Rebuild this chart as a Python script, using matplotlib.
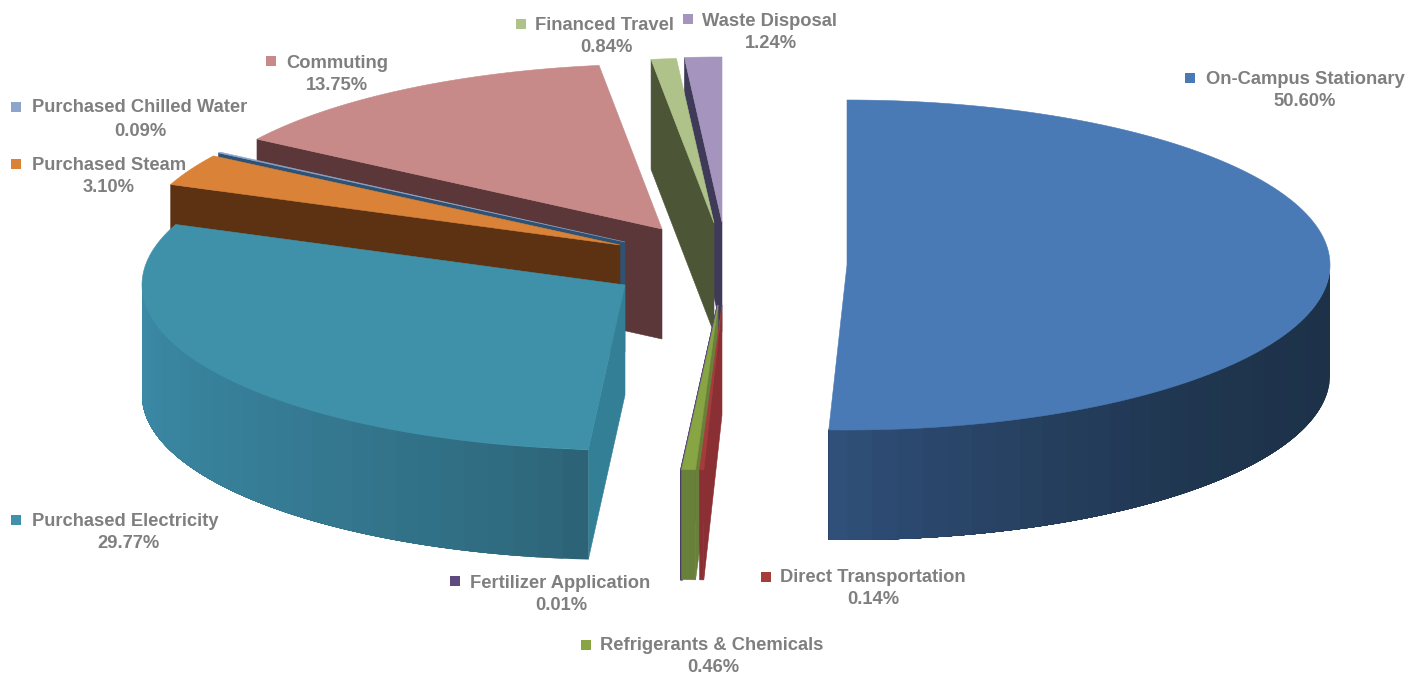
import numpy as np
import matplotlib

matplotlib.use("Agg")

import matplotlib.pyplot as plt
from matplotlib.colors import to_rgb
from matplotlib.patches import Polygon


# =====================================
# Emissions share by source (percent)
# =====================================

sources = [
    "On-Campus Stationary",
    "Direct Transportation",
    "Refrigerants & Chemicals",
    "Fertilizer Application",
    "Purchased Electricity",
    "Purchased Steam",
    "Purchased Chilled Water",
    "Commuting",
    "Financed Travel",
    "Waste Disposal",
]

shares = [50.60, 0.14, 0.46, 0.01, 29.77, 3.10, 0.09, 13.75, 0.84, 1.24]


# =====================================
# Slice styling and layout
# =====================================

top_colors = [
    "#4a7ab5", "#a63b3b", "#88a544", "#5e4a7f", "#3f91aa",
    "#da8237", "#8da5cb", "#c78a89", "#aec289", "#a594be",
]

cut_colors = [
    "#1f3550", "#8a2f33", "#69803a", "#4a3c66", "#337f96",
    "#5c3213", "#2f5273", "#5c3739", "#4c5636", "#3f3a58",
]

# outer wall shade: colour at the first band, colour at the last, curve power
rim_shading = {
    0: ("#1d3249", "#31527d", 2.5),
    4: ("#2c6376", "#3c8ca9", 0.7),
}

# exploded slice centres, image pixels
centres = [
    (847, 265), (722, 305), (718, 305), (718, 305), (625, 285),
    (620, 245), (625, 242), (662, 229), (714, 223), (722, 222),
]

# painted back to front
draw_order = [0, 9, 8, 7, 6, 5, 4, 3, 2, 1]

RADIUS_X = 483
RADIUS_Y = 165
DEPTH = 110
BAND_DEGREES = 3

label_centres = [
    (1305, 80), (873, 578), (712, 646), (560, 583), (125, 521),
    (109, 166), (140, 108), (337, 63), (604, 25), (769, 21),
]

value_centres = [
    (1305, 102), (873, 600), (713, 668), (561, 605), (128, 543),
    (109, 188), (140, 131), (337, 86), (606, 47), (771, 43),
]

marker_centres = [
    (1190, 78), (766, 577), (586, 645), (455, 581), (16, 520),
    (16, 164), (16, 107), (271, 61), (521, 24), (688, 19),
]

plt.rcParams["font.family"] = ["Liberation Sans", "DejaVu Sans"]


def rim_point(centre, angle):
    # angle runs clockwise from twelve o'clock, in degrees
    rad = np.radians(angle)
    return (
        centre[0] + RADIUS_X * np.sin(rad),
        centre[1] - RADIUS_Y * np.cos(rad),
    )


def wall_polygon(centre, a_from, a_to):
    arc = np.linspace(a_from, a_to, max(int(a_to - a_from), 1) + 1)
    upper = [rim_point(centre, a) for a in arc]
    lower = [(x, y + DEPTH) for x, y in reversed(upper)]
    return upper + lower


def mix(color_a, color_b, t):
    a = np.array(to_rgb(color_a))
    b = np.array(to_rgb(color_b))
    return tuple(a + (b - a) * t)


# =====================================
# Create Chart
# =====================================

fig = plt.figure(
    figsize=(14.2, 6.74),
    dpi=100
)

ax = fig.add_axes([0, 0, 1, 1])
ax.set_xlim(0, 1420)
ax.set_ylim(674, 0)
ax.axis("off")

edges = np.cumsum([0] + shares) / sum(shares) * 360

for i in draw_order:
    start, end = edges[i], edges[i + 1]
    centre = centres[i]

    # the thinnest slice still needs a visible hairline
    outline = 1.6 if shares[i] < 0.05 else 0.4

    # cut face on the leading edge, only seen when it faces the front
    if np.sin(np.radians(start)) < 0:
        x, y = rim_point(centre, start)
        ax.add_patch(Polygon(
            [centre, (x, y), (x, y + DEPTH), (centre[0], centre[1] + DEPTH)],
            facecolor=cut_colors[i],
            edgecolor=cut_colors[i],
            linewidth=outline
        ))

    # outer wall along the front half of the rim
    wall_from = max(start, 90)
    wall_to = min(end, 270)
    if wall_to > wall_from:
        if i in rim_shading:
            # each band runs to the far end so later ones paint over it
            first, last, power = rim_shading[i]
            for a0 in np.arange(wall_from, wall_to, BAND_DEGREES):
                t = ((a0 - wall_from) / (wall_to - wall_from)) ** power
                ax.add_patch(Polygon(
                    wall_polygon(centre, a0, wall_to),
                    facecolor=mix(first, last, t),
                    edgecolor="none"
                ))
        else:
            ax.add_patch(Polygon(
                wall_polygon(centre, wall_from, wall_to),
                facecolor=cut_colors[i],
                edgecolor=cut_colors[i],
                linewidth=outline
            ))

    # top face
    arc = np.linspace(start, end, max(int(end - start) * 2, 2))
    ax.add_patch(Polygon(
        [centre] + [rim_point(centre, a) for a in arc],
        facecolor=top_colors[i],
        edgecolor=top_colors[i],
        linewidth=outline
    ))


# =====================================
# Labels
# =====================================

for i, name in enumerate(sources):
    ax.text(
        label_centres[i][0],
        label_centres[i][1],
        name,
        ha="center",
        va="center",
        fontsize=13.2,
        fontweight="bold",
        color="#7f7f7f"
    )
    ax.text(
        value_centres[i][0],
        value_centres[i][1],
        f"{shares[i]:.2f}%",
        ha="center",
        va="center",
        fontsize=13.2,
        fontweight="bold",
        color="#7f7f7f"
    )
    ax.plot(
        marker_centres[i][0],
        marker_centres[i][1],
        marker="s",
        markersize=7,
        markeredgewidth=0,
        color=top_colors[i]
    )


# =====================================
# Save Image
# =====================================

fig.savefig("out.png", dpi=100)
plt.close(fig)
